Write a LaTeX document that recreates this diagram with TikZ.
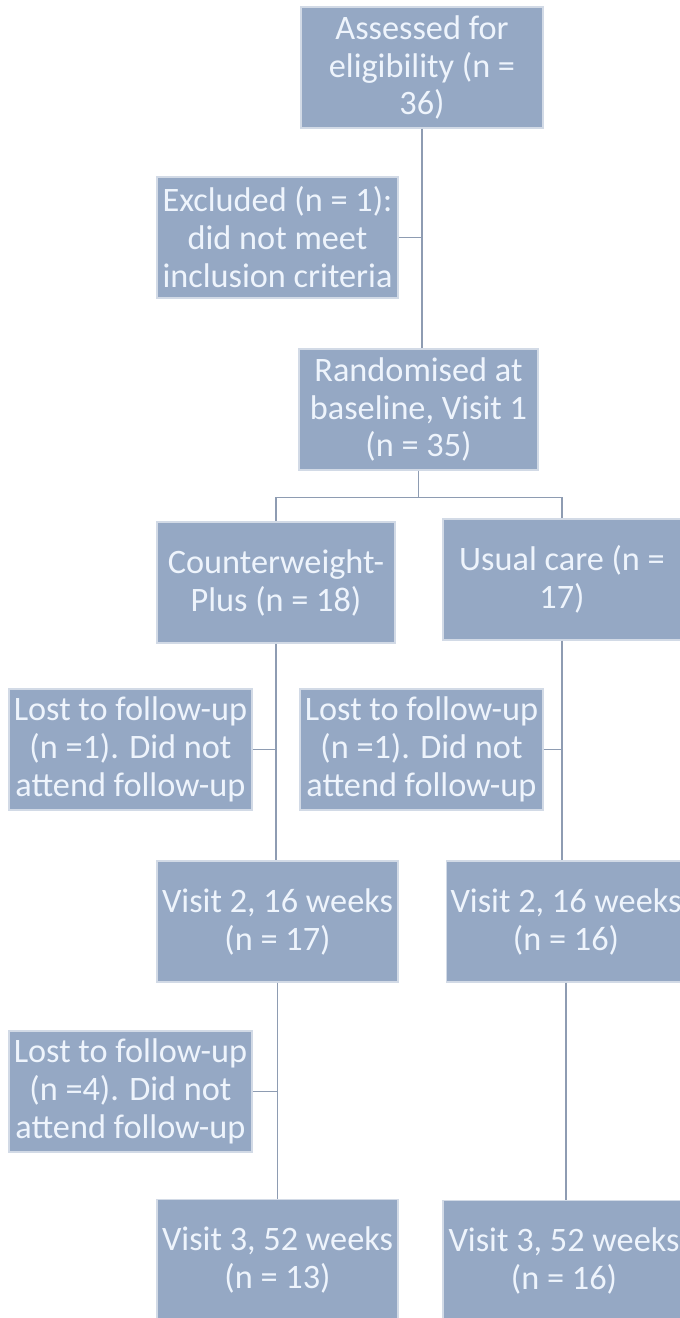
\documentclass[tikz,border=0pt]{standalone}
\usepackage{fontspec}
\setmainfont{Carlito}
\usetikzlibrary{calc}
\definecolor{boxfill}{HTML}{95A8C4}
\definecolor{boxline}{HTML}{D2DAE6}
\definecolor{boxtext}{HTML}{EEF4FC}
\definecolor{linkcol}{HTML}{8E9CB2}
\begin{document}
\begin{tikzpicture}[
  box/.style={draw=boxline, line width=0.6pt, fill=boxfill, text=boxtext,
    minimum height=2.42cm, inner sep=0pt, align=center,
    font=\fontsize{19.5}{21.6}\selectfont},
  link/.style={draw=linkcol, line width=1.1pt}
]
\useasboundingbox[fill=white] (0,0) rectangle (13.6,-26.36);
\node[box, minimum width=4.84cm] (A) at (8.44,-1.35) {Assessed for\\eligibility (n =\\36)};
\node[box, minimum width=4.82cm] (E) at (5.55,-4.75) {Excluded (n = 1):\\did not meet\\inclusion criteria};
\node[box, minimum width=4.78cm] (R) at (8.37,-8.19) {Randomised at\\baseline, Visit 1\\(n = 35)};
\node[box, minimum width=4.76cm] (C) at (5.52,-11.65) {Counterweight-\\Plus (n = 18)};
\node[box, minimum width=4.76cm] (U) at (11.24,-11.59) {Usual care (n =\\17)};
\node[box, minimum width=4.86cm] (L1) at (2.61,-14.99) {Lost to follow-up\\(n =1). Did not\\attend follow-up};
\node[box, minimum width=4.86cm] (L2) at (8.43,-14.99) {Lost to follow-up\\(n =1). Did not\\attend follow-up};
\node[box, minimum width=4.82cm] (V2L) at (5.55,-18.43) {Visit 2, 16 weeks\\(n = 17)};
\node[box, minimum width=4.78cm] (V2R) at (11.32,-18.43) {Visit 2, 16 weeks\\(n = 16)};
\node[box, minimum width=4.86cm] (L3) at (2.61,-21.83) {Lost to follow-up\\(n =4). Did not\\attend follow-up};
\node[box, minimum width=4.82cm] (V3L) at (5.55,-25.2) {Visit 3, 52 weeks\\(n = 13)};
\node[box, minimum width=4.84cm] (V3R) at (11.28,-25.22) {Visit 3, 52 weeks\\(n = 16)};
% connectors
\coordinate (split) at ($(R.south)+(0,-0.54)$);
\draw[link] (A.south) -- (A.south |- R.north);
\draw[link] (E.east) -- (E.east -| A.south);
\draw[link] (R.south) -- (split) -| (C.north);
\draw[link] (split) -| (U.north);
\draw[link] (C.south) -- (C.south |- V2L.north);
\draw[link] (L1.east) -- (L1.east -| C.south);
\draw[link] (U.south) -- (U.south |- V2R.north);
\draw[link] (L2.east) -- (L2.east -| U.south);
\draw[link] (V2L.south) -- (V2L.south |- V3L.north);
\draw[link] (L3.east) -- (L3.east -| V2L.south);
\draw[link] (V2R.south) -- (V2R.south |- V3R.north);
\end{tikzpicture}
\end{document}
